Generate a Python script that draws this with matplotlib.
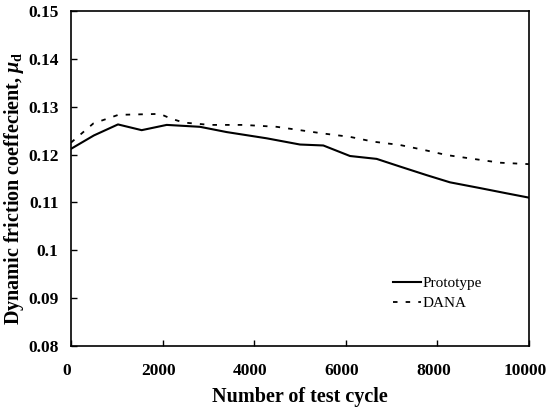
import numpy as np
import matplotlib.pyplot as plt
import matplotlib.transforms as mtransforms

plt.rcParams['font.family'] = ['Liberation Serif', 'DejaVu Serif']
plt.rcParams['mathtext.fontset'] = 'custom'
plt.rcParams['mathtext.it'] = 'Liberation Serif:italic:bold'
plt.rcParams['mathtext.rm'] = 'Liberation Serif:bold'

proto_x = [0, 500, 1026, 1543, 2090, 2817, 3400, 4272, 5000, 5510, 6092, 6674,
           7183, 7766, 8275, 8930, 9513, 10000]
proto_y = [0.1212, 0.1240, 0.1263, 0.1251, 0.1262, 0.1258, 0.1247, 0.1234, 0.1221,
           0.1219, 0.1197, 0.1191, 0.1175, 0.1157, 0.1142, 0.1130, 0.1119, 0.1110]

dana_x = [0, 487, 1033, 1943, 2162, 2452, 3035, 3763, 4491, 5000, 5510, 6092,
          6601, 7183, 7693, 8202, 8857, 9367, 10000]
dana_y = [0.1225, 0.1265, 0.1283, 0.1285, 0.1276, 0.1267, 0.1262, 0.1262, 0.1258,
          0.1251, 0.1244, 0.1237, 0.1227, 0.1220, 0.1210, 0.1199, 0.1190, 0.1183, 0.1180]

xticks = [0, 2000, 4000, 6000, 8000, 10000]
yticks = [0.08, 0.09, 0.1, 0.11, 0.12, 0.13, 0.14, 0.15]
ytick_labels = ['0.08', '0.09', '0.1', '0.11', '0.12', '0.13', '0.14', '0.15']

fig = plt.figure(figsize=(5.47, 4.11), dpi=100)
ax = fig.add_axes([0.1298, 0.1582, 0.8372, 0.815])

ax.plot(proto_x, proto_y, color='black', lw=1.5, label='Prototype')
ax.plot(dana_x, dana_y, color='black', lw=1.3, ls=(0, (2.5, 4.5)), label='DANA')

ax.set_xlim(0, 10000)
ax.set_ylim(0.08, 0.15)
ax.set_xticks(xticks)
ax.set_xticklabels([str(t) for t in xticks], fontweight='bold', fontsize=12.5)
ax.set_yticks(yticks)
ax.set_yticklabels(ytick_labels, fontweight='bold', fontsize=12.5)
ax.tick_params(direction='in', length=4, width=1)
ax.tick_params(axis='x', pad=12)
ax.tick_params(axis='y', pad=9)

# x tick labels sit a little left of their ticks in the original
shift = mtransforms.ScaledTranslation(-4 / 100, 0, fig.dpi_scale_trans)
for lab in ax.get_xticklabels():
    lab.set_transform(lab.get_transform() + shift)

for s in ax.spines.values():
    s.set_linewidth(1.2)

ax.set_xlabel('Number of test cycle', fontweight='bold', fontsize=14.5, labelpad=6)
ax.set_ylabel(r'Dynamic friction coeffecient, $\mu_{\rm d}$', fontweight='bold',
              fontsize=14.5)
ax.yaxis.set_label_coords(-0.098, 0.47)

ax.legend(loc='lower right', bbox_to_anchor=(0.927, 0.066), frameon=False,
          fontsize=11, handlelength=1.85, handletextpad=0.1, labelspacing=0.4)

fig.savefig('out.png', dpi=100)
